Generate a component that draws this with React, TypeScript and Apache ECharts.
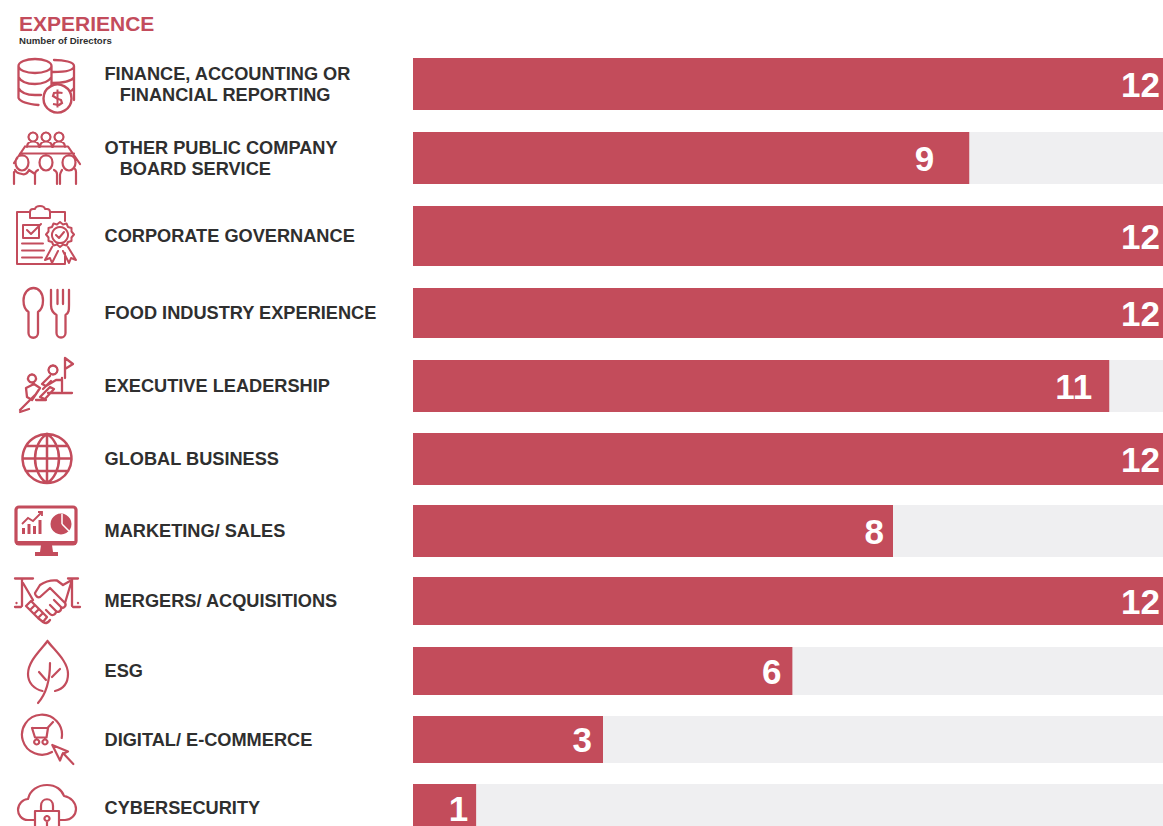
import React, { useEffect, useRef } from "react";
import * as echarts from "echarts";

const categories = [
  "FINANCE, ACCOUNTING OR\n\u00a0\u00a0\u00a0FINANCIAL REPORTING",
  "OTHER PUBLIC COMPANY\n\u00a0\u00a0\u00a0BOARD SERVICE",
  "CORPORATE GOVERNANCE",
  "FOOD INDUSTRY EXPERIENCE",
  "EXECUTIVE LEADERSHIP",
  "GLOBAL BUSINESS",
  "MARKETING/ SALES",
  "MERGERS/ ACQUISITIONS",
  "ESG",
  "DIGITAL/ E-COMMERCE",
  "CYBERSECURITY",
];
// Printed director counts
const directorCounts = [12, 9, 12, 12, 11, 12, 8, 12, 6, 3, 1];
// Bar lengths as drawn in the picture, on the same 0-12 scale
const drawnLengths = [12, 8.9, 12, 12, 11.14, 12, 7.68, 12, 6.07, 3.04, 1.01];
const scaleMax = 12;

// Layout, per row
const rowTops = [58, 132, 206, 288, 360, 433, 505, 577, 647, 716, 784];
const rowHeights = [52, 52, 60, 50, 52, 52, 52, 48, 48, 47, 48];
const labelInsets = [3, 35, 3, 3, 17, 3, 9, 3, 11, 11, 8];
const textNudges = [0, 0, 1, 2, 2, 0, 1, 2, 0, 0, 0];

const RED = "#c34c5c";
const BAR = "#c34c5b";
const TRACK = "#efeff1";
const INK = "#2f2f2f";

const iconPaths: string[] = [
  // coins
  "M18.5 66a16.5 7 0 1 1 33 0a16.5 7 0 1 1-33 0M18.5 66V98M18.5 77c2 4 8 7 16.5 7s14-3 16.5-7M18.5 88c2 4 8 7 16.5 7h6M18.5 98c2 4 8 6 20 7M51.5 66V86M54 60c10 0 20 2 20 6s-8 6-21 6M74 66V100M52 83c10 0 20-2 22-6M52 94h4M74 88c-1 2-3 3-5 4",
  // board
  "M33 132.500a4.500 4.500 0 1 1-.01 0M46 132.500a4.500 4.500 0 1 1-.01 0M59 132.500a4.500 4.500 0 1 1-.01 0M27 147c0-4 3-5.500 6-5.500s6 1.500 6 5.500M40 147c0-4 3-5.500 6-5.500s6 1.500 6 5.500M53 147c0-4 3-5.500 6-5.500s6 1.500 6 5.500M25 146.500H68L80 164M25 146.500L14 163M20 153.500H74M22 155.500c-4 0-6.500 3-6.500 7s2.500 8 6.500 8s6.500-4 6.500-8s-2.500-7-6.500-7zM46 155.500c-4 0-6.500 3-6.500 7s2.500 8 6.500 8s6.500-4 6.500-8s-2.500-7-6.500-7zM69 155.500c-4 0-6.500 3-6.500 7s2.500 8 6.500 8s6.500-4 6.500-8s-2.500-7-6.500-7zM14 184V172M15 170c2 4 4 3 7 4s5 0 7-4M35 184V174c0-2 1-3 3-4M57 184V174c0-2-1-3-3-4M62 170c-1 2-2 3-2 5V184M76 184V172c0-2 0-2-1-3M29 170l6 4",
  // clipboard
  "M29 212H17V264H65V253M65 221V212H50M30 218V212a3 3 0 0 1 3-3h2c1-4 9-4 10 0h2a3 3 0 0 1 3 3v6zM23 225H39V238H23zM27 230l4 4l10-10M22 243.500H43M22 250.500H44M22 257.500H42M60 222l3 2.500l3.500-1l1.500 3.500l3.500 1l0 3.500l2.500 3l-2.500 3l0 3.500l-3.500 1l-1.500 3.500l-3.500-1l-3 2.500l-3-2.500l-3.500 1l-1.500-3.500l-3.500-1l0-3.500l-2.500-3l2.500-3l0-3.500l3.500-1l1.500-3.500l3.500 1zM60 227a8 8 0 1 1-.01 0zM56 235l3 3l5-6M52 247l-7 13l5-2l2 5l6-12M68 247l8 13l-5-2l-2 5l-6-12",
  // spoon, fork
  "M33.500 288c-5.500 0-10 5-10 12.500c0 6 2 9.500 5 11.500V333a4.500 4.500 0 0 0 9.500 0V312c3-2 5-5.500 5-11.500c0-7.500-4-12.500-9.500-12.500zM51 290V305c0 5 2 8 5.500 10V333a4.500 4.500 0 0 0 9 0V315c3.500-2 3.500-5 3.500-10V290M57.500 290V304M63 290V304",
  // climbing
  "M65 378V358L73 364L65 369M48 393H72M53 365.500a4.500 4.500 0 1 1-.01 0M32 374.500a4 4 0 1 1-.01 0M62 378V391M50 376l-8 8l4 2l10-6l5 0M26 388l8-4l6 4l-8 12l-5-3zM35 395l-15 15M20 412l9-3M43 389l8-8M40 397l10-10l4 2l-9 10zM36 400h10",
  // globe
  "M47 434a24.500 24.500 0 1 1-.01 0zM47 434c-7 4-12 14-12 24.500s5 20.500 12 24.500M47 434c7 4 12 14 12 24.500s-5 20.500-12 24.500M47 434V483M22.500 458.500H71.500M26 446H68M26 471H68",
  // monitor frame
  "M19 507H73a3 3 0 0 1 3 3V541a3 3 0 0 1-3 3H19a3 3 0 0 1-3-3V510a3 3 0 0 1 3-3z",
  // handshake
  "M15 578.500H33M68 578.500H78M22 579V606M72 579V606M15 607H21M73 607H80M23 583L33 600M71 583L65 603M40 585L35 593C35 596 38 598 40 597L50 588L65 603C67 606 63 609 61 607L54 600M61 607C62 611 58 613 56 611L50 605M56 611C56 615 52 616 50 614L46 610M40 585C46 581 52 580 57 580.500L63 585L70 581M26 606L31 601L35 605L30 610ZM30 610L35 605L39 609L34 614ZM34 614L39 609L43 613L38 618ZM38 618L43 613L47 617L43 622ZM43 622C46 624 48 623 50 620",
  // leaf
  "M47.500 641C41 650 28 661 28 674C28 683 34 689 42.500 691M47.500 641C54 650 68 661 68 674C68 683 63 689 55 691M50 663C50 680 46 694 38 703M39 672L46 680M60 669L52 677",
  // cart
  "M52 752A20 20 0 1 1 61.700 738M32 728H47.500L53 722M32 728L35 737.500H46.500L48 728M36.700 739.500a2.500 2.500 0 1 1-.01 0M45 739.500a2.500 2.500 0 1 1-.01 0M52.300 745L60 760.500L62.500 754L68 751.500ZM63 753L73.300 764",
  // cloud
  "M35 820H28C21 820 18 814 18 810C18 804 23 799 28 799C30 790 38 785 47 785C56 785 62 790 64 796C71 797 76 803 76 809C76 815 71 820 65 820H60M35 826V811H59V826M41 811V806C41 797 53 797 53 806V811M47 816a2.500 2.500 0 1 1-.01 0M47 821V826",
];
const iconWeights = [2.3, 2.2, 2, 2.3, 2.3, 2.5, 3.2, 2.3, 2.2, 2.2, 2.2];

iconPaths.forEach((d, i) => {
  echarts.graphic.registerShape("icon" + i, echarts.graphic.extendPath(d, {}));
});

function buildOption() {
  const grid = categories.map((_, i) => ({
    left: 413,
    width: 750,
    top: rowTops[i],
    height: rowHeights[i],
    containLabel: false,
    outerBoundsMode: "none",
  }));
  const xAxis = categories.map((_, i) => ({
    type: "value",
    gridIndex: i,
    min: 0,
    max: scaleMax,
    show: false,
  }));
  const yAxis = categories.map((name, i) => ({
    type: "category",
    gridIndex: i,
    data: [name],
    axisLine: { show: false },
    axisTick: { show: false },
    splitLine: { show: false },
    axisLabel: {
      align: "left",
      margin: 308.5,
      color: INK,
      fontFamily: "Liberation Sans",
      fontWeight: "bold",
      fontSize: 18.2,
      lineHeight: 21,
      padding: [textNudges[i], 0, 0, 0],
    },
  }));
  const series = categories.map((_, i) => ({
    type: "bar",
    xAxisIndex: i,
    yAxisIndex: i,
    barWidth: "100%",
    data: [drawnLengths[i]],
    itemStyle: { color: BAR },
    showBackground: true,
    backgroundStyle: { color: TRACK },
    label: {
      show: true,
      position: "insideRight",
      distance: labelInsets[i],
      formatter: () => String(directorCounts[i]),
      color: "#ffffff",
      fontFamily: "Liberation Sans",
      fontWeight: "bold",
      fontSize: 35,
    },
  }));
  const graphic = [
    ...iconPaths.map((_, i) => ({
      type: "icon" + i,
      x: 0,
      y: 0,
      silent: true,
      style: { fill: "none", stroke: RED, lineWidth: iconWeights[i], lineCap: "round", lineJoin: "round" },
    })),
    // solid parts of icons
    { type: "circle", shape: { cx: 57.5, cy: 98.5, r: 14 }, z: 5, style: { fill: "#fff", stroke: RED, lineWidth: 2.4 } },
    { type: "circle", shape: { cx: 61, cy: 524, r: 10.5 }, style: { fill: RED } },
    { type: "polyline", shape: { points: [[22, 524], [28, 518], [33, 521], [42, 512]] }, style: { fill: "none", stroke: RED, lineWidth: 1.8 } },
    { type: "polyline", shape: { points: [[38, 512], [42, 512], [42, 516]] }, style: { fill: "none", stroke: RED, lineWidth: 1.8 } },
    { type: "rect", shape: { x: 22, y: 528, width: 3, height: 6 }, style: { fill: RED } },
    { type: "rect", shape: { x: 27.5, y: 524, width: 3, height: 10 }, style: { fill: RED } },
    { type: "rect", shape: { x: 33, y: 526, width: 3, height: 8 }, style: { fill: RED } },
    { type: "rect", shape: { x: 38.5, y: 520, width: 3, height: 14 }, style: { fill: RED } },
    { type: "rect", shape: { x: 16, y: 541, width: 60, height: 4 }, style: { fill: RED } },
    { type: "polygon", shape: { points: [[41, 545], [52, 545], [53, 552], [58, 552], [58, 556], [35, 556], [35, 552], [40, 552]] }, style: { fill: RED } },
    { type: "line", shape: { x1: 62, y1: 514, x2: 62, y2: 524 }, style: { stroke: "#fff", lineWidth: 1.5 } },
    { type: "line", shape: { x1: 62, y1: 524, x2: 69, y2: 531 }, style: { stroke: "#fff", lineWidth: 1.5 } },
    { type: "circle", shape: { cx: 16.5, cy: 603, r: 1.2 }, style: { fill: RED } },
    { type: "circle", shape: { cx: 78, cy: 603, r: 1.2 }, style: { fill: RED } },
    { type: "polyline", z: 6, shape: { points: [[62.5, 93], [59, 92.5], [54, 93], [53, 96], [57, 98.5], [61, 100], [62, 103], [59, 105], [53, 104]] }, style: { fill: "none", stroke: RED, lineWidth: 2.2 } },
    { type: "line", z: 6, shape: { x1: 57.5, y1: 89.5, x2: 57.5, y2: 107.5 }, style: { stroke: RED, lineWidth: 2 } },
  ];
  return {
    animation: false,
    backgroundColor: "#ffffff",
    title: [
      {
        text: "EXPERIENCE",
        left: 19,
        top: 13,
        padding: 0,
        textStyle: { color: RED, fontFamily: "Liberation Sans", fontWeight: "bold", fontSize: 21 },
      },
      {
        text: "Number of Directors",
        left: 19,
        top: 35,
        padding: 0,
        textStyle: { color: INK, fontFamily: "Liberation Sans", fontWeight: "bold", fontSize: 9.6 },
      },
    ],
    grid,
    xAxis,
    yAxis,
    series,
    graphic,
  };
}

export default function App() {
  const ref = useRef<HTMLDivElement>(null);
  useEffect(() => {
    document.body.style.margin = "0";
    const chart = echarts.init(ref.current!, null, { renderer: "svg" });
    chart.setOption(buildOption() as any);
    return () => chart.dispose();
  }, []);
  return <div ref={ref} style={{ width: 1163, height: 826, overflow: "hidden" }} />;
}
